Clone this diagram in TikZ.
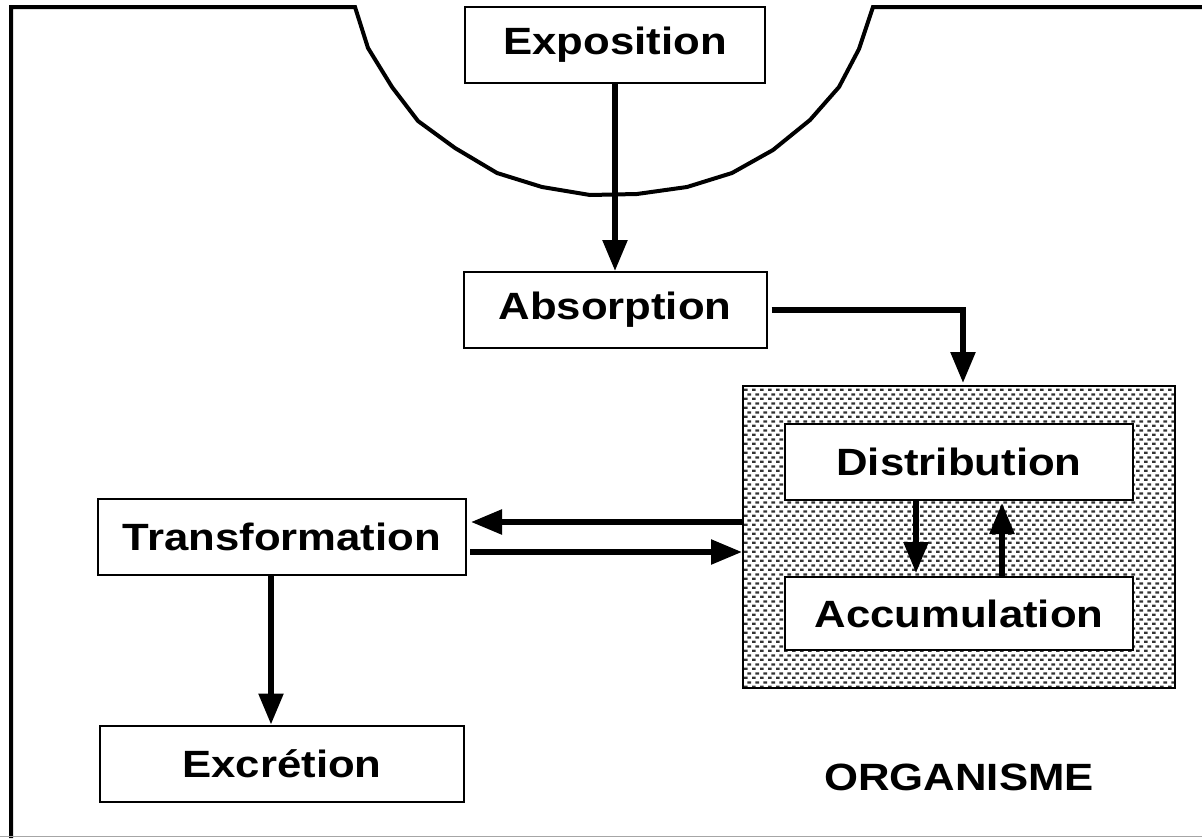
\documentclass[tikz,border=0pt]{standalone}
\usepackage{fontspec}
\setmainfont{Liberation Sans}[FakeStretch=1.15]
\usetikzlibrary{positioning,arrows.meta,patterns}

% small staggered dashes for the organism box
\pgfdeclarepatternformonly{dashdots}{\pgfqpoint{0pt}{0pt}}{\pgfqpoint{8pt}{9.4pt}}{\pgfqpoint{8pt}{9.4pt}}{%
  \pgfpathrectangle{\pgfqpoint{0pt}{0pt}}{\pgfqpoint{4.2pt}{2.4pt}}%
  \pgfpathrectangle{\pgfqpoint{3.8pt}{4.7pt}}{\pgfqpoint{4.2pt}{2.4pt}}%
  \pgfusepath{fill}}

\begin{document}
\begin{tikzpicture}[x=1pt,y=-1pt,node distance=100pt,on grid,
    box/.style={draw,line width=2pt,fill=white,minimum height=76pt,inner sep=0pt,
      font=\fontsize{38}{40}\selectfont\bfseries},
    arr/.style={line width=5.5pt,-{Triangle[width=24pt,length=31pt]}}]
      \useasboundingbox (0,0) rectangle (1202,838);
      % frame with the opening at the top
      \draw[line width=4pt] (11,838) -- (11,7) -- (355,7) -- (368,48) -- (392,87)
        -- (418,121) -- (455,148) -- (497,173) -- (542,187) -- (590,195) -- (637,194)
        -- (687,187) -- (732,173) -- (773,150) -- (810,120) -- (839,87) -- (859,49)
        -- (873,7) -- (1202,7);
      \draw[black!35,line width=1.5pt] (0,836.5) -- (1202,836.5);

      \node[box, minimum width=300pt] (expo) at (615,45) {Exposition};
      \node[box, minimum width=303pt] (abso) [below=265pt of expo] {Absorption};
      \node[draw, line width=2pt, pattern=dashdots, pattern color=black!80,
        minimum width=432pt, minimum height=302pt] (body) at (959,537) {};
      \node[box, minimum width=348pt] (dist) [above=75pt of body] {Distribution};
      \node[box, minimum width=348pt, minimum height=73pt] (accu) [below=76.5pt of body] {Accumulation};
      \node[box, minimum width=368pt] (trans) [left=677pt of body] {Transformation};
      \node[box, minimum width=364pt] (excr) [below=226.5pt of trans] {Excrétion};
      \node[font=\fontsize{38}{40}\selectfont\bfseries] (orglabel) [below=240pt of body] {ORGANISME};

      \path[arr]
        (expo) edge (abso)
        ([yshift=15pt]body.west) edge[shorten >=4pt] ([yshift=15pt]trans.east)
        ([yshift=-15pt]trans.east) edge[shorten <=3pt] ([yshift=-15pt]body.west)
        ([xshift=-43pt]dist.south) edge[shorten >=3pt] ([xshift=-43pt]accu.north)
        ([xshift=43pt]accu.north) edge[shorten >=2pt] ([xshift=43pt]dist.south)
        ([xshift=-11pt]trans.south) edge ([xshift=-11pt]excr.north);
      \draw[arr, shorten <=4pt] (abso.east) -| ([xshift=4pt,yshift=2pt]body.north);
    \end{tikzpicture}
\end{document}
